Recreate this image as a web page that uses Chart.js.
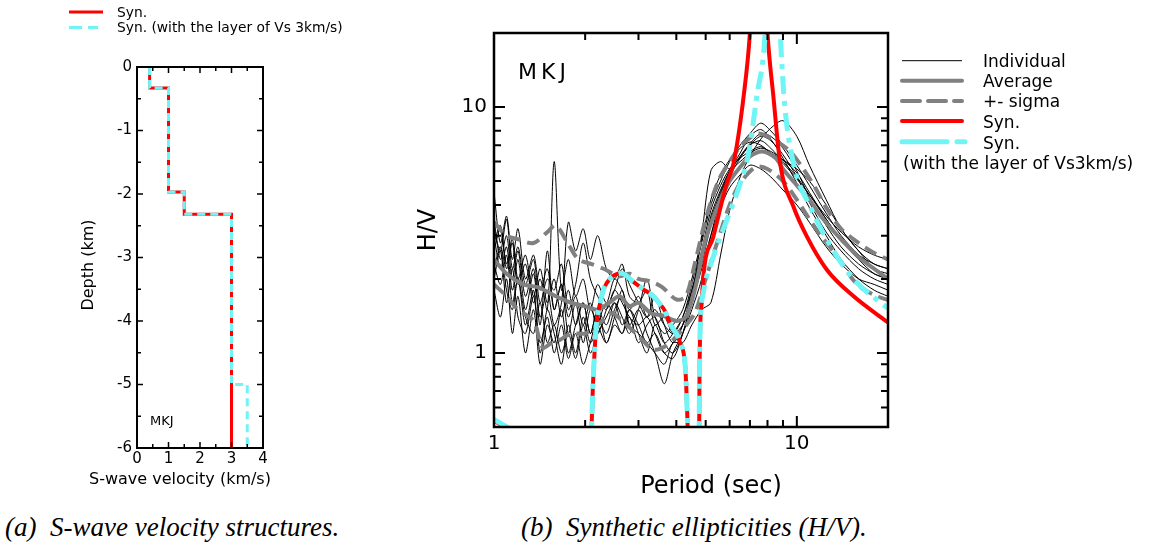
<!DOCTYPE html>
<html>
<head>
<meta charset="utf-8">
<script src="https://cdn.jsdelivr.net/npm/chart.js@4.4.1/dist/chart.umd.min.js"></script>
<style>
  html, body { margin: 0; padding: 0; background: #fff; }
  body { width: 1164px; height: 547px; position: relative; overflow: hidden; }
  #velChart { position: absolute; left: 0; top: 0; }
  #hvChart { position: absolute; left: 380px; top: 0; }
  .cap { position: absolute; top: 512px; font: italic 27px "Liberation Serif", serif; white-space: pre; color: #000; }
</style>
</head>
<body>
<canvas id="velChart" width="380" height="500"></canvas>
<canvas id="hvChart" width="784" height="510"></canvas>
<div class="cap" style="left:5px">(a)  S-wave velocity structures.</div>
<div class="cap" style="left:521px">(b)  Synthetic ellipticities (H/V).</div>
<script>
// ---------- (a) S-wave velocity structure ----------
const layerTop = [0, -0.33, -1.97, -2.32];     // km
const layerVs = [0.4, 1.0, 1.5, 3.0];           // km/s
const modelBottom = -6;
const extraLayerTop = -5;                       // added Vs 3.5 layer (cyan model)
const extraLayerVs = 3.5;

const velMajor = [0, 1, 2, 3, 4];
const velMinor = [0.5, 1.5, 2.5, 3.5];
const depthMajor = [0, -1, -2, -3, -4, -5, -6];
const depthMinor = [-0.5, -1.5, -2.5, -3.5, -4.5, -5.5];

// ---------- (b) H/V ----------
const periods = [1.0, 1.05, 1.1, 1.15, 1.2, 1.27, 1.35, 1.42, 1.5, 1.58,
  1.67, 1.76, 1.86, 1.97, 2.08, 2.2, 2.35, 2.5, 2.65, 2.8,
  3.0, 3.2, 3.4, 3.65, 3.9, 4.2, 4.5, 4.85, 5.2, 5.6,
  6.0, 6.5, 7.0, 7.6, 8.2, 9.0, 10, 11, 12.5, 14,
  16, 18, 20];

const ind1 = [2.6, 3.2, 2.2, 2.8, 1.9, 2.3, 1.6, 2.0, 1.5, 6.0, 1.8, 2.4, 1.7, 2.0, 1.5, 1.9, 1.6, 2.0, 1.8, 1.5, 1.7, 1.4, 1.5, 1.3, 1.2, 1.4, 1.9, 2.8, 4.0, 5.0, 6.0, 7.0, 7.8, 8.6, 8.0, 7.0, 5.8, 4.8, 3.7, 3.0, 2.5, 2.2, 2.0];
const ind2 = [3.5, 2.4, 3.0, 2.0, 2.6, 1.7, 2.2, 1.4, 1.8, 1.3, 1.6, 3.4, 2.6, 3.2, 2.4, 3.0, 2.2, 2.0, 2.3, 1.7, 1.6, 1.8, 1.3, 1.4, 1.2, 1.3, 1.6, 2.4, 3.6, 4.6, 5.5, 6.3, 7.0, 7.3, 6.8, 6.0, 5.2, 4.4, 3.5, 2.9, 2.5, 2.3, 2.2];
const ind3 = [2.0, 2.6, 1.6, 2.2, 1.4, 1.2, 1.7, 1.1, 1.4, 1.0, 1.3, 0.95, 1.2, 0.9, 1.1, 1.4, 1.2, 1.5, 1.7, 1.3, 1.5, 1.2, 1.0, 0.75, 1.0, 1.2, 1.5, 2.0, 3.0, 4.2, 5.2, 6.2, 7.0, 7.6, 7.3, 6.4, 5.2, 4.1, 3.1, 2.6, 2.2, 2.0, 1.9];
const ind4 = [4.5, 2.8, 3.6, 2.4, 3.2, 2.0, 2.5, 1.8, 2.2, 1.5, 1.9, 1.4, 1.7, 1.3, 1.6, 1.2, 1.5, 1.8, 2.2, 1.9, 1.6, 1.4, 1.7, 1.3, 1.1, 1.3, 1.8, 2.6, 3.8, 4.8, 5.6, 6.2, 6.6, 6.9, 6.5, 5.9, 5.1, 4.4, 3.6, 3.1, 2.7, 2.5, 2.4];
const ind5 = [2.3, 1.9, 2.5, 1.6, 2.0, 1.3, 1.8, 1.0, 1.5, 1.2, 0.9, 1.3, 1.0, 1.4, 1.1, 1.3, 1.6, 1.4, 1.2, 1.5, 1.3, 1.1, 1.2, 1.0, 0.95, 1.2, 1.6, 2.2, 3.0, 3.9, 4.7, 5.3, 5.8, 5.6, 5.2, 4.6, 4.0, 3.4, 2.7, 2.3, 2.0, 1.9, 1.8];
const ind6 = [3.0, 2.2, 2.7, 1.8, 2.4, 1.5, 2.1, 1.3, 2.6, 1.5, 1.9, 1.2, 1.6, 1.1, 1.5, 1.3, 1.1, 1.3, 1.2, 1.4, 1.1, 1.3, 1.4, 1.1, 1.0, 1.2, 1.7, 3.0, 5.5, 6.0, 5.6, 6.0, 6.5, 6.8, 6.6, 6.1, 5.4, 4.5, 3.5, 2.9, 2.4, 2.1, 2.0];
const ind7 = [1.8, 1.4, 2.0, 1.2, 1.7, 1.0, 1.5, 0.9, 1.3, 1.1, 1.5, 1.0, 1.3, 1.6, 1.2, 1.5, 1.1, 1.4, 1.8, 1.3, 1.2, 1.1, 1.0, 0.9, 1.1, 1.1, 1.3, 1.5, 1.6, 2.5, 3.8, 5.2, 6.3, 7.4, 8.2, 8.8, 7.6, 5.8, 4.2, 3.2, 2.6, 2.2, 2.1];
const ind8 = [2.8, 3.3, 2.3, 2.9, 2.0, 2.5, 1.7, 2.2, 1.6, 2.0, 1.4, 1.8, 1.3, 1.6, 1.2, 1.5, 1.3, 1.6, 1.4, 1.2, 1.5, 2.0, 1.4, 1.2, 1.3, 1.5, 2.0, 2.9, 4.2, 5.3, 6.1, 6.8, 7.2, 7.0, 6.5, 6.1, 5.6, 5.0, 4.0, 3.2, 2.6, 2.3, 2.2];
const ind9 = [2.2, 2.7, 1.8, 1.5, 2.0, 1.4, 1.2, 1.6, 1.1, 1.3, 1.0, 1.2, 0.95, 1.3, 1.0, 1.2, 1.4, 1.6, 1.3, 1.5, 1.2, 1.0, 1.3, 1.1, 1.2, 1.4, 1.8, 2.5, 3.5, 4.5, 5.5, 6.5, 7.6, 8.1, 7.4, 6.2, 4.9, 3.9, 3.0, 2.4, 2.0, 1.8, 1.7];
const ind10 = [3.2, 2.6, 3.5, 2.2, 2.7, 1.9, 2.4, 1.6, 2.0, 1.8, 2.3, 1.5, 1.9, 2.8, 2.0, 1.7, 1.5, 1.8, 1.6, 1.4, 1.3, 1.4, 1.2, 1.0, 1.1, 1.3, 1.7, 2.3, 3.3, 4.4, 5.4, 6.3, 7.1, 7.8, 7.6, 6.8, 5.5, 4.3, 3.3, 2.7, 2.3, 2.1, 2.0];
const individuals = [ind1, ind2, ind3, ind4, ind5, ind6, ind7, ind8, ind9, ind10];

const avgPeriod = [1.0, 1.1, 1.25, 1.4, 1.6, 1.8, 2.0, 2.2, 2.4, 2.6, 2.8, 3.0, 3.3, 3.6, 4.0, 4.3, 4.6, 5.0, 5.5, 6.0, 6.5, 7.0, 7.7, 8.5, 9.0, 10, 11, 12, 13, 14, 16, 18, 20];
const avgHV = [2.4, 2.1, 1.9, 1.85, 1.7, 1.6, 1.55, 1.5, 1.6, 1.7, 1.55, 1.6, 1.45, 1.42, 1.35, 1.4, 1.8, 2.9, 4.0, 5.0, 5.7, 6.3, 6.6, 6.2, 5.6, 4.8, 4.2, 3.6, 3.2, 2.9, 2.45, 2.2, 2.0];

const upPeriod = [1.0, 1.1, 1.2, 1.35, 1.5, 1.6, 1.75, 1.9, 2.1, 2.3, 2.6, 2.8, 3.0, 3.3, 3.6, 4.0, 4.3, 4.6, 5.0, 5.5, 6.0, 6.5, 7.0, 7.5, 8.5, 9.5, 10.5, 11.5, 12.5, 14, 16, 18, 20];
const upHV = [3.4, 3.0, 2.9, 2.8, 3.1, 3.3, 2.8, 2.4, 2.3, 2.2, 2.05, 2.1, 2.0, 1.95, 1.85, 1.65, 1.7, 2.3, 3.5, 5.0, 6.0, 6.9, 7.5, 7.8, 7.3, 6.6, 5.6, 4.7, 3.9, 3.2, 2.8, 2.55, 2.4];

const lowPeriod = [1.0, 1.1, 1.2, 1.35, 1.45, 1.55, 1.65, 1.8, 2.0, 2.2, 2.45, 2.65, 2.9, 3.15, 3.35, 3.6, 3.9, 4.2, 4.6, 5.0, 5.5, 6.0, 6.5, 7.3, 8.0, 9.0, 10, 11, 12, 13.5, 15.8, 18, 20];
const lowHV = [1.9, 1.7, 1.5, 1.35, 1.05, 1.1, 1.13, 1.2, 1.2, 1.3, 1.45, 1.35, 1.22, 1.1, 1.03, 1.05, 1.13, 1.25, 1.45, 2.0, 2.9, 4.0, 4.9, 5.7, 5.6, 5.0, 4.2, 3.5, 3.0, 2.5, 1.9, 1.72, 1.64];

// synthetic ellipticity (null = break at the singularities)
const synPeriod = [1.0, 1.06, 1.12, 1.2, 1.9,
  2.08, 2.1, 2.12, 2.15, 2.18, 2.24, 2.3, 2.42, 2.64, 2.88, 3.1, 3.36, 3.53, 3.67, 3.81, 4.12, 4.28, 4.33, 4.36, 4.38, 4.55,
  4.74, 4.76, 4.77, 4.79, 4.86, 4.91, 5.3, 5.87, 6.18, 6.67, 7.0, 7.5, 8.0, 8.37, 8.81, 9.75, 10.8, 12.56, 15.4, 20];
const synHV = [0.53, 0.51, 0.49, 0.46, null,
  0.4, 0.5, 0.72, 1.03, 1.32, 1.59, 1.81, 2.01, 2.11, 1.95, 1.82, 1.7, 1.58, 1.48, 1.32, 1.1, 0.88, 0.65, 0.5, 0.4, null,
  0.4, 0.5, 0.8, 1.2, 1.64, 2.04, 2.97, 4.89, 5.9, 11, 20, 100, 20, 11, 5.9, 3.93, 2.97, 2.18, 1.7, 1.33];

const syn3Period = [1.0, 1.06, 1.12, 1.2, 1.9,
  2.08, 2.1, 2.12, 2.15, 2.18, 2.24, 2.3, 2.42, 2.64, 2.88, 3.1, 3.36, 3.53, 3.67, 3.81, 4.12, 4.28, 4.33, 4.36, 4.38, 4.55,
  4.74, 4.76, 4.77, 4.79, 4.91, 5.3, 5.87, 6.5, 6.93, 7.37, 7.86, 8.3, 8.81, 9.1, 9.75, 11.07, 13.6, 15.8, 20];
const syn3HV = [0.535, 0.515, 0.495, 0.47, null,
  0.4, 0.5, 0.72, 1.03, 1.32, 1.59, 1.81, 2.01, 2.11, 1.95, 1.82, 1.7, 1.58, 1.48, 1.32, 1.1, 0.88, 0.65, 0.5, 0.4, null,
  0.4, 0.5, 0.8, 1.2, 1.75, 2.46, 3.47, 4.89, 6.5, 11, 20, 100, 20, 10.5, 5.9, 3.93, 2.46, 1.93, 1.52];

const periodMajor = [1, 10];
const periodMinor = [2, 3, 4, 5, 6, 7, 8, 9];
const hvMajor = [1, 10];
const hvMinor = [0.6, 0.7, 0.8, 0.9, 2, 3, 4, 5, 6, 7, 8, 9];

Chart.defaults.font.family = '"DejaVu Sans", sans-serif';
Chart.defaults.color = '#000';

const GRAY = '#808080';
const CYAN = '#6ff5f5';
const RED = '#ff0000';

const pairs = (xs, ys) => xs.map((x, i) => ({ x: x, y: ys[i] }));

// inward ticks on all four sides, then the frame
function frameTicks(id, xMaj, xMin, yMaj, yMin, majLen, minLen, tickW, frameW) {
  return {
    id: id,
    afterDatasetsDraw(chart) {
      const { ctx, chartArea: a, scales: { x, y } } = chart;
      ctx.save();
      ctx.strokeStyle = '#000';
      ctx.lineWidth = tickW;
      ctx.beginPath();
      const xt = (vals, len) => vals.forEach(v => {
        const px = x.getPixelForValue(v);
        ctx.moveTo(px, a.bottom); ctx.lineTo(px, a.bottom - len);
        ctx.moveTo(px, a.top); ctx.lineTo(px, a.top + len);
      });
      const yt = (vals, len) => vals.forEach(v => {
        const py = y.getPixelForValue(v);
        ctx.moveTo(a.left, py); ctx.lineTo(a.left + len, py);
        ctx.moveTo(a.right, py); ctx.lineTo(a.right - len, py);
      });
      xt(xMaj, majLen); xt(xMin, minLen);
      yt(yMaj, majLen); yt(yMin, minLen);
      ctx.stroke();
      ctx.lineWidth = frameW;
      ctx.strokeRect(a.left, a.top, a.right - a.left, a.bottom - a.top);
      ctx.restore();
    }
  };
}

function legendLine(ctx, x0, x1, y, color, width, dash, cap) {
  ctx.save();
  ctx.strokeStyle = color;
  ctx.lineWidth = width;
  ctx.lineCap = cap || 'butt';
  ctx.setLineDash(dash || []);
  ctx.beginPath();
  ctx.moveTo(x0, y);
  ctx.lineTo(x1, y);
  ctx.stroke();
  ctx.restore();
}

// ---------------- chart (a) ----------------
function stepProfile(tops, vs, bottom) {
  const pts = [];
  for (let i = 0; i < tops.length; i++) {
    const base = i + 1 < tops.length ? tops[i + 1] : bottom;
    pts.push({ x: vs[i], y: tops[i] });
    pts.push({ x: vs[i], y: base });
  }
  return pts;
}

new Chart(document.getElementById('velChart'), {
  type: 'scatter',
  data: {
    datasets: [
      {
        label: 'Syn. (with the layer of Vs 3km/s)',
        data: stepProfile(layerTop.concat([extraLayerTop]), layerVs.concat([extraLayerVs]), modelBottom),
        showLine: true, borderColor: CYAN, borderWidth: 3, borderDash: [8, 5],
        pointRadius: 0, order: 0
      },
      {
        label: 'Syn.',
        data: stepProfile(layerTop, layerVs, modelBottom),
        showLine: true, borderColor: RED, borderWidth: 3,
        pointRadius: 0, order: 1
      }
    ]
  },
  options: {
    responsive: false,
    animation: false,
    devicePixelRatio: 1,
    layout: { padding: { left: 76, top: 67, right: 117, bottom: 0 } },
    plugins: { legend: { display: false }, tooltip: { enabled: false } },
    scales: {
      x: {
        type: 'linear', min: 0, max: 4,
        grid: { display: false, drawTicks: false }, border: { display: false },
        ticks: { stepSize: 1, font: { size: 15 }, padding: 2 },
        afterFit: s => { s.height = 52; }
      },
      y: {
        type: 'linear', min: -6, max: 0,
        grid: { display: false, drawTicks: false }, border: { display: false },
        ticks: { stepSize: 1, font: { size: 15 }, padding: 5 },
        afterFit: s => { s.width = 61; }
      }
    }
  },
  plugins: [
    frameTicks('velTicks', velMajor, velMinor, depthMajor, depthMinor, 6, 4, 1.5, 2),
    {
      id: 'velText',
      afterDraw(chart) {
        const ctx = chart.ctx;
        legendLine(ctx, 69, 103, 12, RED, 3);
        legendLine(ctx, 69, 98, 27.5, CYAN, 3, [13, 6]);
        ctx.save();
        ctx.fillStyle = '#000';
        ctx.font = '13.8px "DejaVu Sans"';
        ctx.textBaseline = 'middle';
        ctx.fillText('Syn.', 117, 13);
        ctx.fillText('Syn. (with the layer of Vs 3km/s)', 117, 28.5);
        ctx.font = '13px "DejaVu Sans"';
        ctx.textBaseline = 'alphabetic';
        ctx.fillText('MKJ', 150, 425);
        // axis titles
        ctx.font = '16px "DejaVu Sans"';
        ctx.textAlign = 'center';
        ctx.textBaseline = 'middle';
        ctx.fillText('S-wave velocity (km/s)', 180, 480);
        ctx.translate(89, 265);
        ctx.rotate(-Math.PI / 2);
        ctx.fillText('Depth (km)', 0, 0);
        ctx.restore();
      }
    }
  ]
});

// ---------------- chart (b) ----------------
const hvDatasets = [
  {
    label: 'Syn. (with the layer of Vs3km/s)',
    data: pairs(syn3Period, syn3HV),
    borderColor: CYAN, borderWidth: 5, borderDash: [18, 7, 5, 7],
    cubicInterpolationMode: 'monotone', spanGaps: false, order: 0
  },
  {
    label: 'Syn.',
    data: pairs(synPeriod, synHV),
    borderColor: RED, borderWidth: 4,
    cubicInterpolationMode: 'monotone', spanGaps: false, order: 1
  },
  {
    label: 'Average',
    data: pairs(avgPeriod, avgHV),
    borderColor: GRAY, borderWidth: 4, tension: 0.3, order: 2
  },
  {
    label: '+ sigma',
    data: pairs(upPeriod, upHV),
    borderColor: GRAY, borderWidth: 4, borderDash: [13, 7], tension: 0.3, order: 3
  },
  {
    label: '- sigma',
    data: pairs(lowPeriod, lowHV),
    borderColor: GRAY, borderWidth: 4, borderDash: [13, 7], tension: 0.3, order: 3
  }
];
individuals.forEach((vals, i) => {
  hvDatasets.push({
    label: 'Individual ' + (i + 1),
    data: pairs(periods, vals),
    borderColor: '#000', borderWidth: 1, tension: 0.3, order: 4
  });
});
hvDatasets.forEach(d => { d.pointRadius = 0; d.clip = 0; });

const onlyDecades = v => (Math.abs(v - 1) < 1e-9 || Math.abs(v - 10) < 1e-9) ? String(Math.round(v)) : '';

new Chart(document.getElementById('hvChart'), {
  type: 'line',
  data: { datasets: hvDatasets },
  options: {
    responsive: false,
    animation: false,
    devicePixelRatio: 1,
    layout: { padding: { left: 30, top: 33, right: 276, bottom: 5 } },
    plugins: { legend: { display: false }, tooltip: { enabled: false } },
    scales: {
      x: {
        type: 'logarithmic', min: 1, max: 20,
        grid: { display: false, drawTicks: false }, border: { display: false },
        ticks: { autoSkip: false, maxRotation: 0, font: { size: 20 }, padding: 5, callback: onlyDecades },
        afterFit: s => { s.height = 78; }
      },
      y: {
        type: 'logarithmic', min: 0.5, max: 20,
        grid: { display: false, drawTicks: false }, border: { display: false },
        ticks: { autoSkip: false, font: { size: 20 }, padding: 7, callback: onlyDecades },
        title: { display: true, text: 'H/V', font: { size: 24 }, padding: { top: 4, bottom: 4 } },
        afterFit: s => { s.width = 84; }
      }
    }
  },
  plugins: [
    frameTicks('hvTicks', periodMajor, periodMinor.concat([20]), hvMajor, hvMinor.concat([20]), 11, 7, 2, 2.5),
    {
      id: 'hvText',
      afterDraw(chart) {
        const ctx = chart.ctx;
        ctx.save();
        ctx.fillStyle = '#000';
        ctx.font = '24px "DejaVu Sans"';
        ctx.textAlign = 'center';
        ctx.textBaseline = 'middle';
        ctx.fillText('Period (sec)', 331, 487);
        ctx.textAlign = 'left';
        ctx.textBaseline = 'alphabetic';
        ctx.font = '22px "DejaVu Sans"';
        ctx.letterSpacing = '4px';
        ctx.fillText('MKJ', 138, 79);
        ctx.letterSpacing = '0px';
        ctx.restore();

        // legend
        const lx0 = 522, lx1 = 582;
        legendLine(ctx, lx0, lx1, 60.7, '#000', 1);
        legendLine(ctx, lx0, lx1, 80.7, GRAY, 4, [], 'round');
        legendLine(ctx, lx0, lx1, 101, GRAY, 4, [18, 8], 'round');
        legendLine(ctx, lx0, lx1, 121, RED, 4, [], 'round');
        legendLine(ctx, lx0, lx1 + 3, 141.7, CYAN, 5, [45, 10, 8, 100], 'round');
        ctx.save();
        ctx.fillStyle = '#000';
        ctx.font = '17px "DejaVu Sans"';
        ctx.textBaseline = 'middle';
        ctx.fillText('Individual', 603, 62.7);
        ctx.fillText('Average', 603, 83);
        ctx.fillText('+- sigma', 603, 103);
        ctx.fillText('Syn.', 603, 123.5);
        ctx.fillText('Syn.', 603, 144.5);
        ctx.fillText('(with the layer of Vs3km/s)', 523, 165);
        ctx.restore();
      }
    }
  ]
});
</script>
</body>
</html>
